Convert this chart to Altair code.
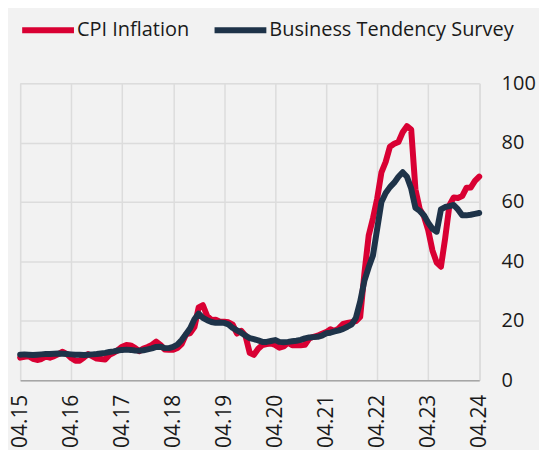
import altair as alt
import pandas as pd

# month positions: 0 = 04.15 ... 108 = 04.24
months = list(range(109))

cpi = [7.61, 7.91, 8.09, 7.20, 6.81, 7.14, 7.95, 7.58, 8.10, 8.81,
       9.58, 8.78, 7.46, 6.57, 6.58, 7.64, 8.79, 8.05, 7.28, 7.16, 7.00, 8.53,
       9.22, 10.13, 11.29, 11.87, 11.72, 10.90, 9.79, 10.68, 11.20, 11.90, 12.98, 11.92,
       10.35, 10.26, 10.23, 10.85, 12.15, 15.39, 15.85, 17.90, 24.52, 25.24, 21.62, 20.30,
       20.35, 19.67, 19.71, 19.50, 18.71, 15.72, 16.65, 15.01, 9.26, 8.55, 10.56, 11.84,
       12.15, 12.37, 11.86, 10.94, 11.39, 12.62, 11.76, 11.77, 11.75, 11.89, 14.03, 14.60,
       14.97, 15.61, 16.19, 17.14, 16.59, 17.53, 18.95, 19.25, 19.58, 19.89, 21.31, 36.08,
       48.69, 54.44, 61.14, 69.97, 73.50, 78.62, 79.60, 80.21, 83.45, 85.51, 84.39, 64.27,
       57.68, 55.18, 50.51, 43.68, 39.59, 38.21, 47.83, 58.94, 61.53, 61.36, 61.98, 64.77,
       64.86, 67.07, 68.50]

bts = [8.6, 8.7, 8.6, 8.5, 8.6, 8.7, 8.8, 8.8, 8.9, 9.0,
       8.9, 8.8, 8.7, 8.6, 8.6, 8.5, 8.6, 8.7, 8.8, 9.0,
       9.2, 9.5, 9.7, 10.0, 10.2, 10.3, 10.2, 10.0, 9.9, 10.1,
       10.4, 10.7, 11.2, 11.3, 10.8, 10.8, 11.2, 12.0, 13.5, 15.5,
       17.5, 20.5, 22.4, 21.0, 20.2, 19.6, 19.3, 19.4, 19.3, 18.8,
       17.6, 16.8, 16.0, 15.0, 14.2, 13.8, 13.4, 12.9, 12.9, 13.2,
       13.5, 12.9, 12.8, 12.9, 13.1, 13.3, 13.6, 14.1, 14.4, 14.5,
       14.6, 15.0, 15.8, 16.0, 16.4, 16.8, 17.3, 18.0, 18.8, 21.0,
       26.5, 33.5, 38.0, 42.0, 51.0, 60.0, 63.0, 65.0, 66.5, 68.5,
       70.0, 68.5, 64.5, 58.0, 57.0, 55.5, 53.0, 51.0, 50.0, 57.5,
       58.3, 58.6, 59.0, 57.5, 55.5, 55.5, 55.7, 56.0, 56.3]

tick_labels = ["04.15", "04.16", "04.17", "04.18", "04.19",
               "04.20", "04.21", "04.22", "04.23", "04.24"]
series_names = ["CPI Inflation", "Business Tendency Survey"]
colors = ["#d90033", "#1e3349"]

df = pd.DataFrame({
    "m": months * 2,
    "v": cpi + bts,
    "s": [series_names[0]] * len(cpi) + [series_names[1]] * len(bts),
})

label_arr = "[" + ",".join("'" + t + "'" for t in tick_labels) + "]"

x = alt.X("m:Q", scale=alt.Scale(domain=[0, 108], nice=False, zero=False),
          axis=alt.Axis(title=None, values=list(range(0, 109, 12)),
                        labelExpr=label_arr + "[round(datum.value/12)]",
                        labelAngle=270, labelPadding=14, labelFontSize=21,
                        ticks=False, domain=True, domainColor="#a6a6a6",
                        domainWidth=1.5, grid=True, gridColor="#dcdcdc",
                        gridWidth=1.5, labelColor="#1a1a1a"))
y = alt.Y("v:Q", scale=alt.Scale(domain=[0, 100], nice=False),
          axis=alt.Axis(title=None, orient="right", values=[0, 20, 40, 60, 80, 100],
                        labelPadding=22, labelFontSize=20, ticks=False, domain=False,
                        grid=True, gridColor="#dcdcdc", gridWidth=1.5,
                        labelColor="#1a1a1a"))
color = alt.Color("s:N", scale=alt.Scale(domain=series_names, range=colors),
                  legend=alt.Legend(title=None, orient="none", legendX=-1, legendY=-82,
                                    direction="horizontal", symbolType="stroke",
                                    symbolSize=2700, symbolStrokeWidth=6,
                                    labelFontSize=20, labelOffset=0, columnPadding=13,
                                    labelLimit=400, labelColor="#1a1a1a"))

base = alt.Chart(df)
red = base.transform_filter(alt.datum.s == series_names[0]).mark_line(
    strokeWidth=6, strokeJoin="round", strokeCap="round").encode(x=x, y=y, color=color)
blue = base.transform_filter(alt.datum.s == series_names[1]).mark_line(
    strokeWidth=6, strokeJoin="round", strokeCap="round").encode(x=x, y=y, color=color)

chart = alt.layer(red, blue).properties(
    width=460.5, height=298,
    autosize=alt.AutoSizeParams(type="none"),
    padding={"left": 12.2, "top": 74.7, "right": 60, "bottom": 70},
    background="#f2f2f2",
).configure_view(stroke=None).configure(font="Open Sans")

chart.save("out.html", embed_options={"renderer": "svg", "actions": False})
